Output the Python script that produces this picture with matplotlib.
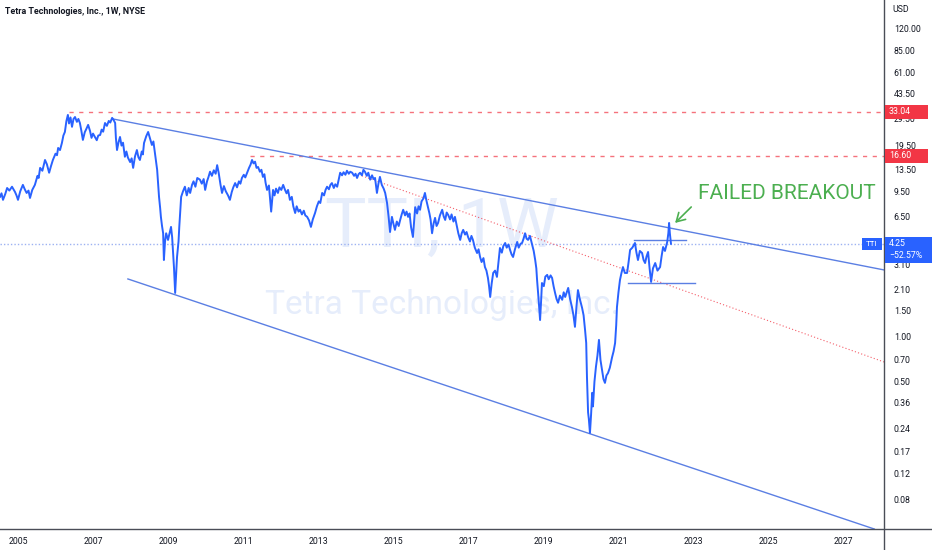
import matplotlib.pyplot as plt
from matplotlib.lines import Line2D
from matplotlib.patches import Rectangle

# weekly closes of TTI: (decimal year, price)
weekly = [
    (2004.52, 8.8), (2004.56, 9.3), (2004.60, 8.4), (2004.66, 9.2), (2004.71, 10.1),
    (2004.77, 9.7), (2004.84, 10.3), (2004.88, 9.9), (2004.92, 9.5), (2004.96, 9.0),
    (2005.00, 8.4), (2005.06, 9.6), (2005.13, 10.6), (2005.18, 9.9), (2005.23, 9.35),
    (2005.28, 9.7), (2005.32, 8.65), (2005.38, 9.8), (2005.45, 10.6), (2005.52, 12.2),
    (2005.55, 11.8), (2005.59, 13.8), (2005.65, 13.2), (2005.72, 15.6), (2005.77, 14.6),
    (2005.83, 12.8), (2005.88, 14.2), (2005.93, 15.6), (2006.00, 17.2), (2006.04, 16.8),
    (2006.07, 18.8), (2006.12, 18.2), (2006.17, 20.3), (2006.21, 22.8), (2006.25, 24.1),
    (2006.29, 28.5), (2006.33, 31.4), (2006.36, 27.5), (2006.40, 30.2), (2006.44, 26.1),
    (2006.48, 29.5), (2006.52, 30.4), (2006.57, 28.2), (2006.61, 29.5), (2006.65, 27.7),
    (2006.69, 24.5), (2006.73, 21.3), (2006.78, 24.0), (2006.82, 25.2), (2006.87, 26.9),
    (2006.92, 24.5), (2006.96, 22.0), (2007.00, 23.5), (2007.05, 22.3), (2007.10, 21.2),
    (2007.14, 22.8), (2007.19, 23.0), (2007.23, 25.0), (2007.27, 24.2), (2007.32, 27.7),
    (2007.37, 26.5), (2007.42, 28.6), (2007.46, 27.9), (2007.51, 30.0), (2007.55, 29.0),
    (2007.59, 27.7), (2007.61, 22.0), (2007.64, 18.2), (2007.68, 20.5), (2007.72, 22.3),
    (2007.76, 19.5), (2007.80, 20.4), (2007.85, 16.4), (2007.89, 17.8), (2007.93, 16.2),
    (2007.99, 15.1), (2008.03, 16.0), (2008.07, 13.8), (2008.12, 16.5), (2008.17, 18.2),
    (2008.21, 16.3), (2008.25, 15.6), (2008.30, 17.8), (2008.33, 17.0), (2008.36, 20.3),
    (2008.42, 22.6), (2008.47, 24.1), (2008.52, 21.8), (2008.57, 19.7), (2008.61, 20.8),
    (2008.65, 17.4), (2008.71, 13.4), (2008.76, 8.8), (2008.79, 7.4), (2008.81, 6.45),
    (2008.84, 5.6), (2008.87, 5.0), (2008.89, 3.3), (2008.92, 4.4), (2008.95, 5.0),
    (2009.00, 4.51), (2009.04, 5.0), (2009.08, 5.52), (2009.11, 4.7), (2009.13, 3.86),
    (2009.16, 2.9), (2009.19, 1.98), (2009.22, 2.8), (2009.24, 3.46), (2009.28, 4.4),
    (2009.30, 5.52), (2009.35, 8.8), (2009.40, 9.6), (2009.45, 10.3), (2009.50, 9.0),
    (2009.55, 10.1), (2009.59, 9.35), (2009.64, 10.6), (2009.68, 11.2), (2009.73, 10.3),
    (2009.78, 11.8), (2009.85, 11.5), (2009.90, 10.8), (2009.95, 11.6), (2009.99, 9.8),
    (2010.04, 11.2), (2010.08, 12.0), (2010.12, 13.0), (2010.17, 12.2), (2010.22, 13.3),
    (2010.27, 12.6), (2010.31, 14.4), (2010.35, 12.8), (2010.40, 10.6), (2010.44, 9.35),
    (2010.49, 10.4), (2010.54, 9.6), (2010.60, 9.0), (2010.65, 8.4), (2010.70, 9.5),
    (2010.74, 10.2), (2010.79, 10.9), (2010.84, 10.2), (2010.89, 11.2), (2010.93, 10.8),
    (2010.97, 11.8), (2011.02, 12.4), (2011.06, 11.9), (2011.11, 12.8), (2011.16, 13.8),
    (2011.20, 14.5), (2011.24, 15.6), (2011.28, 14.8), (2011.32, 15.2), (2011.36, 13.8),
    (2011.40, 14.0), (2011.45, 13.0), (2011.49, 13.4), (2011.53, 12.0), (2011.57, 12.5),
    (2011.60, 11.0), (2011.64, 9.8), (2011.69, 10.5), (2011.72, 8.6), (2011.75, 7.0),
    (2011.80, 9.8), (2011.84, 9.0), (2011.88, 10.0), (2011.93, 9.35), (2011.97, 10.2),
    (2012.02, 9.8), (2012.07, 10.6), (2012.12, 9.8), (2012.16, 9.3), (2012.20, 9.8),
    (2012.25, 8.4), (2012.30, 8.8), (2012.34, 7.6), (2012.39, 6.85), (2012.43, 7.6),
    (2012.48, 7.0), (2012.52, 7.2), (2012.57, 6.7), (2012.62, 7.1), (2012.66, 6.6),
    (2012.71, 6.45), (2012.76, 6.1), (2012.81, 5.52), (2012.86, 6.2), (2012.92, 6.85),
    (2012.97, 7.6), (2013.02, 8.2), (2013.06, 8.0), (2013.11, 9.35), (2013.16, 9.0),
    (2013.20, 9.8), (2013.24, 10.3), (2013.29, 9.9), (2013.33, 10.6), (2013.37, 10.9),
    (2013.42, 10.1), (2013.46, 10.7), (2013.51, 10.3), (2013.55, 11.5), (2013.59, 12.8),
    (2013.64, 12.3), (2013.68, 12.9), (2013.73, 12.4), (2013.77, 13.2), (2013.82, 12.6),
    (2013.86, 13.0), (2013.91, 12.8), (2013.96, 12.2), (2014.00, 12.6), (2014.04, 11.8),
    (2014.08, 12.5), (2014.12, 12.8), (2014.17, 12.3), (2014.21, 13.4), (2014.25, 13.0),
    (2014.30, 12.2), (2014.34, 12.8), (2014.39, 11.5), (2014.44, 12.3), (2014.48, 11.6),
    (2014.52, 11.8), (2014.57, 9.35), (2014.61, 10.8), (2014.65, 12.0), (2014.70, 10.6),
    (2014.75, 10.0), (2014.79, 9.35), (2014.84, 8.0), (2014.88, 6.5), (2014.92, 5.1),
    (2014.97, 6.45), (2015.01, 5.8), (2015.05, 5.27), (2015.10, 6.0), (2015.15, 5.6),
    (2015.19, 6.15), (2015.23, 6.7), (2015.27, 7.2), (2015.32, 6.6), (2015.36, 7.0),
    (2015.40, 6.45), (2015.44, 6.8), (2015.48, 5.5), (2015.53, 4.72), (2015.56, 6.0),
    (2015.59, 7.5), (2015.64, 6.8), (2015.68, 7.6), (2015.72, 7.2), (2015.76, 8.2),
    (2015.81, 8.6), (2015.85, 9.35), (2015.89, 8.3), (2015.93, 7.5), (2015.97, 6.8),
    (2016.00, 6.2), (2016.04, 5.0), (2016.08, 5.8), (2016.12, 6.35), (2016.16, 5.6),
    (2016.20, 5.87), (2016.25, 6.6), (2016.31, 7.2), (2016.35, 6.5), (2016.39, 6.15),
    (2016.43, 6.9), (2016.47, 6.65), (2016.52, 6.2), (2016.56, 6.7), (2016.61, 6.0),
    (2016.65, 6.45), (2016.70, 5.6), (2016.74, 5.0), (2016.79, 4.51), (2016.83, 5.0),
    (2016.87, 5.27), (2016.92, 4.9), (2016.96, 5.1), (2017.00, 4.72), (2017.05, 4.4),
    (2017.09, 4.8), (2017.13, 4.51), (2017.18, 4.0), (2017.24, 3.68), (2017.28, 3.9),
    (2017.32, 3.46), (2017.36, 3.2), (2017.41, 3.4), (2017.45, 2.96), (2017.49, 2.8),
    (2017.53, 2.50), (2017.56, 2.2), (2017.59, 1.86), (2017.63, 2.3), (2017.67, 2.70),
    (2017.72, 2.8), (2017.77, 2.54), (2017.81, 3.2), (2017.85, 3.98), (2017.90, 3.7),
    (2017.94, 4.1), (2017.99, 4.30), (2018.03, 4.0), (2018.08, 4.2), (2018.12, 3.86),
    (2018.16, 3.6), (2018.20, 3.46), (2018.25, 3.9), (2018.31, 4.37), (2018.35, 4.0),
    (2018.40, 4.25), (2018.44, 4.30), (2018.48, 4.6), (2018.52, 5.0), (2018.56, 4.6),
    (2018.60, 4.51), (2018.65, 4.8), (2018.71, 4.17), (2018.75, 3.8), (2018.79, 3.30),
    (2018.82, 2.9), (2018.84, 2.42), (2018.88, 1.8), (2018.92, 1.30), (2018.95, 1.8),
    (2018.97, 2.31), (2019.02, 2.2), (2019.06, 2.55), (2019.11, 2.62), (2019.15, 2.45),
    (2019.20, 2.6), (2019.24, 2.50), (2019.28, 2.2), (2019.32, 1.98), (2019.36, 1.8),
    (2019.40, 1.70), (2019.45, 1.9), (2019.51, 1.78), (2019.55, 2.0), (2019.59, 1.86),
    (2019.63, 2.0), (2019.67, 2.14), (2019.72, 1.8), (2019.77, 1.59), (2019.81, 1.4),
    (2019.85, 1.17), (2019.89, 1.6), (2019.93, 2.07), (2019.98, 1.8), (2020.04, 1.57),
    (2020.08, 1.4), (2020.12, 1.11), (2020.15, 0.91), (2020.17, 0.54), (2020.20, 0.31),
    (2020.22, 0.28), (2020.25, 0.225), (2020.28, 0.30), (2020.31, 0.42), (2020.33, 0.34),
    (2020.37, 0.50), (2020.41, 0.63), (2020.45, 0.75), (2020.49, 0.955), (2020.53, 0.70),
    (2020.57, 0.60), (2020.61, 0.52), (2020.65, 0.49), (2020.69, 0.55), (2020.73, 0.57),
    (2020.78, 0.62), (2020.84, 0.73), (2020.88, 0.80), (2020.92, 0.91), (2020.95, 1.2),
    (2020.97, 1.59), (2021.01, 2.0), (2021.05, 2.42), (2021.09, 2.7), (2021.13, 2.96),
    (2021.18, 2.7), (2021.24, 2.70), (2021.28, 3.2), (2021.32, 3.86), (2021.38, 4.0),
    (2021.45, 4.30), (2021.49, 3.7), (2021.53, 3.30), (2021.58, 3.8), (2021.64, 3.68),
    (2021.68, 3.3), (2021.72, 3.15), (2021.76, 3.5), (2021.80, 3.74), (2021.84, 2.9),
    (2021.88, 2.35), (2021.93, 2.9), (2021.99, 3.15), (2022.05, 2.8), (2022.12, 2.96),
    (2022.16, 3.5), (2022.20, 4.04), (2022.25, 3.8), (2022.31, 4.37), (2022.34, 5.0),
    (2022.36, 5.87), (2022.38, 5.0), (2022.41, 4.25),
]
years = [w[0] for w in weekly]
prices = [w[1] for w in weekly]

last_price = 4.25
change_label = "\u221252.57%"
level_high = 33.04
level_mid = 16.60

# drawn trend lines: (years, prices) of end points
upper_line = ([2007.53, 2028.09], [29.5, 2.83])
lower_line = ([2007.93, 2027.83], [2.46, 0.0507])
red_line = ([2014.17, 2028.09], [12.2, 0.678])
range_top = ([2021.43, 2022.81], [4.51, 4.51])
range_bottom = ([2021.27, 2023.05], [2.31, 2.31])

y_ticks = [120, 85, 61, 43.5, 29.5, 19.5, 13.5, 9.5, 6.5, 3.1, 2.1, 1.5,
           1.0, 0.7, 0.5, 0.36, 0.24, 0.17, 0.12, 0.08]
x_ticks = [2005, 2007, 2009, 2011, 2013, 2015, 2017, 2019, 2021, 2023, 2025, 2027]

plt.rcParams["font.family"] = ["Roboto", "DejaVu Sans"]
W, H = 932, 550
fig = plt.figure(figsize=(W / 100, H / 100), dpi=100)
ax = fig.add_axes([0, 21 / H, 884 / W, 529 / H])
ax.set_yscale("log")
ax.set_xlim(2004.52, 2028.09)
ax.set_ylim(0.0507, 187)

blue = "#2962ff"
line_blue = "#5b7fe3"
red = "#f23645"
green = "#4caf50"

ax.plot(years, prices, color=blue, lw=1.4, zorder=5)

ax.plot(*upper_line, color=line_blue, lw=1, zorder=4)
ax.plot(*lower_line, color=line_blue, lw=1, zorder=4)
ax.plot(*range_top, color=line_blue, lw=1, zorder=4)
ax.plot(*range_bottom, color=line_blue, lw=1, zorder=4)
ax.plot(*red_line, color=red, lw=0.8, ls=(0, (1, 2)), alpha=0.8, zorder=3)
ax.plot([2006.36, 2028.09], [level_high] * 2, color=red, lw=1, ls=(0, (3, 4)), alpha=0.7)
ax.plot([2011.19, 2028.09], [level_mid] * 2, color=red, lw=1, ls=(0, (3, 4)), alpha=0.7)
ax.axhline(last_price, color="#9db2f2", lw=1, ls=(0, (1, 1.5)), zorder=2)

# watermark
ax.text(0.5, 0.569, "TTI, 1W", transform=ax.transAxes, fontsize=50,
        color="#e6edfb", ha="center", va="center", zorder=0)
ax.text(0.5, 0.4234, "Tetra Technologies, Inc.", transform=ax.transAxes, fontsize=24,
        color="#e6edfb", ha="center", va="center", zorder=0)

ax.annotate("", xy=(2022.52, 5.87), xytext=(2022.95, 7.52),
            arrowprops=dict(arrowstyle="->,head_length=0.6,head_width=0.35", color=green,
                            lw=1.2, shrinkA=0, shrinkB=0))
ax.text(2023.13, 9.2, "FAILED BREAKOUT", color=green, fontsize=15,
        fontweight="normal", va="center", ha="left")

ax.yaxis.tick_right()
ax.set_yticks(y_ticks)
ax.set_yticklabels([f"{v:.2f}" for v in y_ticks])
ax.yaxis.set_minor_locator(plt.NullLocator())
ax.set_xticks(x_ticks)
ax.set_xticklabels([str(v) for v in x_ticks])
ax.tick_params(axis="y", length=0, pad=7, labelsize=6.3, labelcolor="#131722")
ax.tick_params(axis="x", length=0, pad=6, labelsize=6.3, labelcolor="#131722")
for s in ax.spines.values():
    s.set_visible(False)

# axis frame lines
fig.add_artist(Line2D([884 / W, 884 / W], [0, 1], color="#4a4d57", lw=1))
fig.add_artist(Line2D([0, 1], [21 / H, 21 / H], color="#4a4d57", lw=1))

fig.text(5 / W, 1 - 12 / H, "Tetra Technologies, Inc., 1W, NYSE", fontsize=6.4,
         fontweight="bold", color="#131722", va="center", ha="left")
fig.text(892 / W, 1 - 9 / H, "USD", fontsize=6.3, color="#131722", va="center")


def price_to_fig_y(p):
    return fig.transFigure.inverted().transform(ax.transData.transform((2010, p)))[1]


def badge(x0, x1, yc, h, color):
    fig.add_artist(Rectangle((x0 / W, yc - h / 2 / H), (x1 - x0) / W, h / H,
                             transform=fig.transFigure, color=color, lw=0, zorder=10))


for lvl in [level_high, level_mid]:
    yc = price_to_fig_y(lvl)
    badge(885, 928, yc, 14, red)
    fig.text(889 / W, yc, f"{lvl:.2f}", fontsize=6.3, color="white",
             va="center", ha="left", zorder=11)

yc = price_to_fig_y(last_price)
fig.add_artist(Rectangle((885 / W, yc - 19 / H), 47 / W, 26 / H,
                         transform=fig.transFigure, color=blue, lw=0, zorder=10))
fig.text(889 / W, yc, f"{last_price:.2f}", fontsize=6.3, color="white",
         va="center", ha="left", zorder=11)
fig.text(889 / W, yc - 12 / H, change_label, fontsize=6.3, color="white",
         va="center", ha="left", zorder=11)
badge(862, 882, yc, 12, blue)
fig.text(872 / W, yc, "TTI", fontsize=5.8, color="white", va="center", ha="center", zorder=11)

fig.savefig("out.png", dpi=100)
